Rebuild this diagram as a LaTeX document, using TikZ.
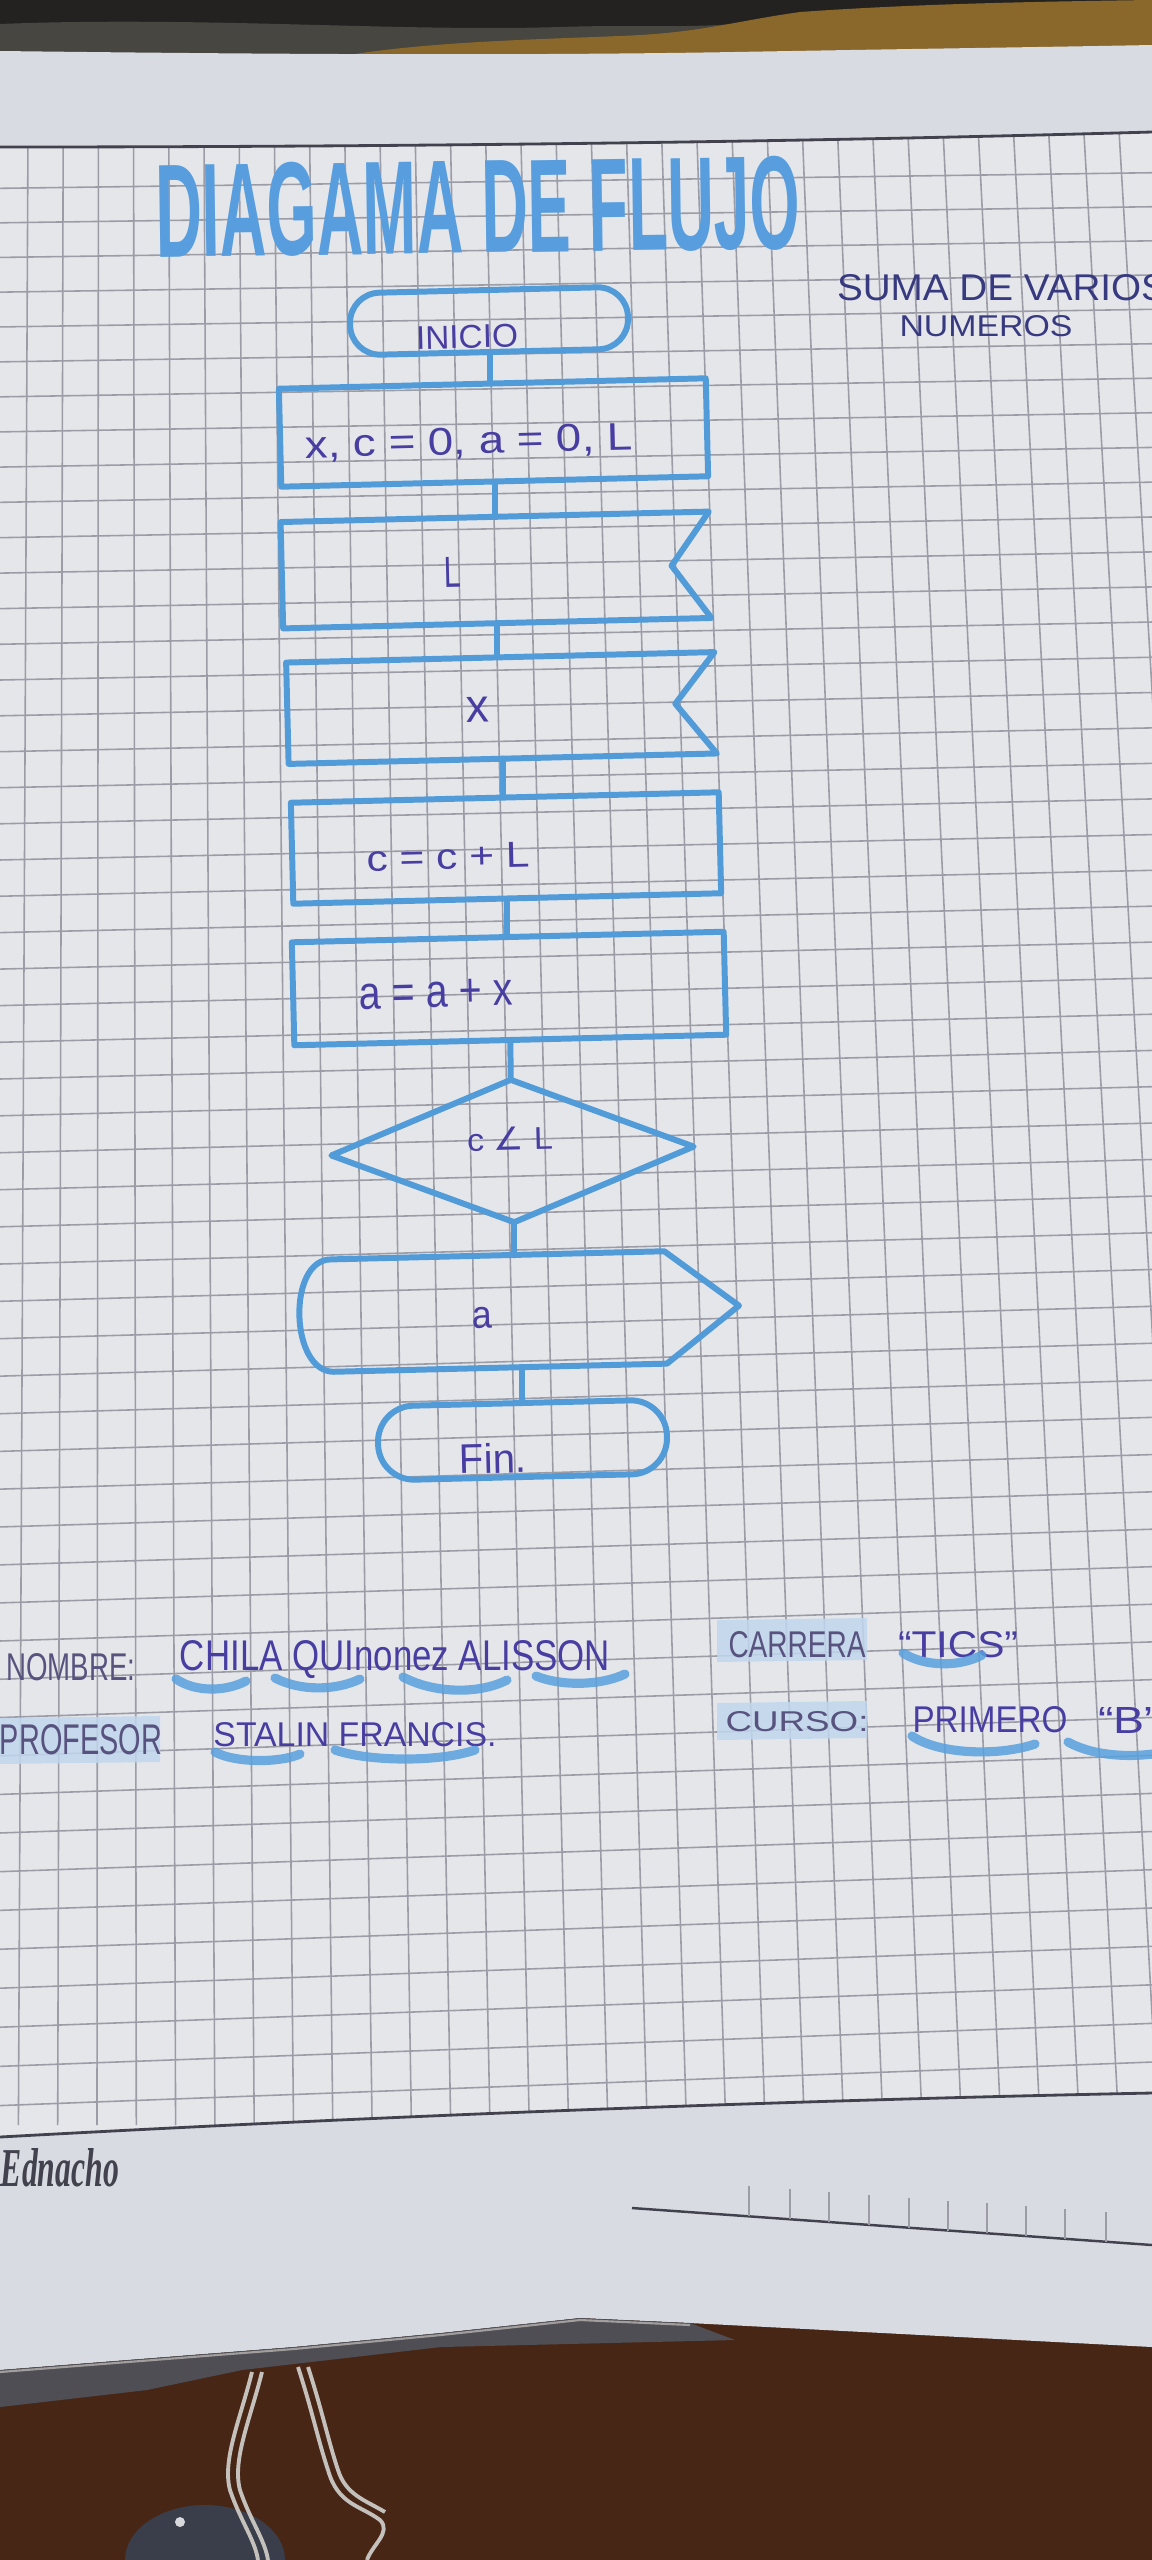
\documentclass[tikz,border=0pt]{standalone}
\usepackage{fontspec}
\setmainfont{Liberation Sans}
\newfontfamily\symfont{DejaVu Sans}
\newfontfamily\sigfont{Liberation Serif}
\usepackage{graphicx}
\usetikzlibrary{calc}

% one unit = one pixel of the sheet
\newlength\pxu
\setlength\pxu{0.01cm}
\newcommand\fitbox[3]{\resizebox{#1\pxu}{#2\pxu}{#3}}

\definecolor{tablec}{RGB}{72,38,22}
\definecolor{darktop}{RGB}{36,34,32}
\definecolor{greytop}{RGB}{72,70,64}
\definecolor{gold}{RGB}{138,104,44}
\definecolor{paperdim}{RGB}{216,219,226}
\definecolor{paper}{RGB}{229,230,234}
\definecolor{gridc}{RGB}{156,156,166}
\definecolor{rulec}{RGB}{66,66,78}
\definecolor{marker}{RGB}{80,155,216}
\definecolor{titleblue}{RGB}{88,158,222}
\definecolor{pen}{RGB}{72,62,162}
\definecolor{pengrey}{RGB}{88,82,126}
\definecolor{notec}{RGB}{56,58,128}
\definecolor{hilite}{RGB}{192,214,237}
\definecolor{swooshc}{RGB}{88,160,222}
\definecolor{bandc}{RGB}{78,78,84}
\definecolor{lacec}{RGB}{196,192,188}
\definecolor{blobc}{RGB}{58,62,74}

\begin{document}
\begin{tikzpicture}[x=0.01cm, y=-0.01cm,
  gridline/.style={draw=gridc, line width=0.45pt},
  rule/.style={draw=rulec, line width=0.8pt},
  shape line/.style={draw=marker, line width=1.7pt, line join=round, line cap=round},
  boxref/.style={rectangle, inner sep=0pt, rotate=1.4},
  flowbox/.style={boxref, shape line},
  terminal/.style={boxref, shape line, rounded corners=#1},
  pentext/.style={text=pen, inner sep=0pt, rotate=1.4},
  labeltext/.style={text=pengrey, inner sep=0pt},
  nametext/.style={text=pen, inner sep=0pt},
  notetext/.style={text=notec, inner sep=0pt},
  swoosh/.style={draw=swooshc, line width=2.6pt, line cap=round, opacity=0.85},
]
\useasboundingbox (0,0) rectangle (1152,2560);

% ---------- table and background ----------
\fill[tablec] (0,0) rectangle (1152,2560);
\fill[darktop] (0,0) rectangle (1152,80);
\fill[greytop] (0,24) .. controls (200,16) and (400,32) .. (560,27)
  .. controls (650,24) and (700,30) .. (770,20) -- (770,70) -- (0,70) -- cycle;
\fill[gold] (330,70) -- (330,58) .. controls (420,42) and (520,40) .. (620,36)
  .. controls (700,33) and (730,22) .. (800,12)
  .. controls (900,5) and (1000,2) .. (1152,0) -- (1152,70) -- cycle;

% ---------- sheet ----------
\fill[paperdim] (0,51) .. controls (250,54) and (500,56) .. (735,52)
  .. controls (900,49) and (1050,47) .. (1152,45)
  -- (1152,2347) -- (690,2323) -- (580,2318) -- (441,2333) -- (294,2347)
  -- (0,2370) -- cycle;

% squared area
\begin{scope}
  \clip (0,147) .. controls (400,147) and (800,142) .. (1152,132)
    -- (1152,2093) .. controls (800,2100) and (400,2115) .. (0,2137) -- cycle;
  \fill[paper] (0,100) rectangle (1152,2200);
  \foreach \k in {0,...,32} {
    \pgfmathsetmacro\xa{28+35.2*\k}
    \pgfmathsetmacro\xb{18.4+39.3*\k}
    \draw[gridline] (\xa,134) -- (\xb,2125);
  }
  \foreach \j in {1,...,53} {
    \pgfmathsetmacro\uu{(\j+0.2)/54}
    \pgfmathsetmacro\ff{\uu+0.0675*\uu*(\uu-1)}
    \pgfmathsetmacro\yl{147+1990*\ff}
    \pgfmathsetmacro\yr{132+1961*\ff}
    \draw[gridline] (0,\yl) -- (1152,\yr);
  }
\end{scope}
\draw[rule] (0,147) .. controls (400,147) and (800,142) .. (1152,132);
\draw[rule] (0,2137) .. controls (400,2115) and (800,2100) .. (1152,2093);

% edge of the next sheet showing below
\draw[rule, line width=0.7pt] (632,2208) -- (1152,2245);
\foreach \x in {749,790,829,869,909,948,987,1026,1065,1106} {
  \pgfmathsetmacro\yb{2208+(\x-632)/520*37}
  \draw[gridline] (\x,\yb) -- (\x,\yb-30);
}

% plastic edge of the sheet protector
\fill[bandc] (0,2370) -- (294,2347) -- (441,2333) -- (580,2318) -- (690,2323)
  -- (735,2340) -- (441,2347) -- (242,2370) -- (147,2390) -- (0,2407) -- cycle;
\draw[lacec!70!bandc, line width=0.6pt] (0,2372) -- (294,2349) -- (441,2335)
  -- (580,2320) -- (690,2325);

% laces and the grey object on the table
\fill[blobc] (205,2560) ellipse [x radius=80, y radius=55];
\fill[white!80!blobc] (180,2522) circle [radius=5];
\draw[lacec, line width=1.1pt] (252,2372) .. controls (240,2420) and (222,2460)
  .. (230,2490) .. controls (240,2520) and (255,2540) .. (258,2560);
\draw[lacec, line width=1.1pt] (262,2372) .. controls (250,2420) and (232,2460)
  .. (240,2490) .. controls (250,2520) and (265,2540) .. (268,2560);
\draw[lacec, line width=1.1pt] (298,2367) .. controls (312,2410) and (318,2440)
  .. (328,2470) .. controls (338,2505) and (360,2505) .. (380,2520)
  .. controls (392,2532) and (372,2545) .. (367,2560);
\draw[lacec, line width=1.1pt] (308,2367) .. controls (322,2410) and (328,2440)
  .. (338,2470) .. controls (346,2495) and (365,2500) .. (385,2512);

% ---------- heading and note ----------
\node[text=titleblue, inner sep=0pt, rotate=0.8] (title) at (478,207)
  {\fitbox{645}{93}{\bfseries DIAGAMA DE FLUJO}};
\node[notetext] (note1) at (1002,288) {\fitbox{330}{26}{SUMA DE VARIOS}};
\node[notetext] (note2) at (986,326) {\fitbox{173}{21}{NUMEROS}};

% ---------- flowchart ----------
\node[terminal=30\pxu, minimum width=278\pxu, minimum height=62\pxu] (start) at (489,321) {};
\node[pentext] (startText) at ($(start)+(-22,16)$) {\fitbox{102}{23}{INICIO}};

\node[flowbox, minimum width=427\pxu, minimum height=98\pxu] (init) at (493.5,432.5) {};
\node[pentext] (initText) at ($(init)+(-24.5,10.5)$) {\fitbox{328}{27}{x, c = 0, a = 0, L}};

\node[boxref, minimum width=427\pxu, minimum height=105\pxu] (inL) at (496,570) {};
\draw[shape line] (inL.north west) -- (inL.north east) -- ($(inL.east)!0.09!(inL.west)$)
  -- (inL.south east) -- (inL.south west) -- cycle;
\node[pentext] (inLText) at ($(inL)+(-43,2)$) {\fitbox{17}{30}{L}};

\node[boxref, minimum width=427\pxu, minimum height=100\pxu] (inX) at (501.5,708) {};
\draw[shape line] (inX.north west) -- (inX.north east) -- ($(inX.east)!0.094!(inX.west)$)
  -- (inX.south east) -- (inX.south west) -- cycle;
\node[pentext] (inXText) at ($(inX)+(-23.5,2)$) {\fitbox{23}{25}{x}};

\node[flowbox, minimum width=428\pxu, minimum height=101\pxu] (sumC) at (506,848) {};
\node[pentext] (sumCText) at ($(sumC)+(-58,9)$) {\fitbox{163}{25}{c = c + L}};

\node[flowbox, minimum width=432\pxu, minimum height=103\pxu] (sumA) at (509,988.5) {};
\node[pentext] (sumAText) at ($(sumA)+(-73,5.5)$) {\fitbox{153}{27}{a = a + x}};

\node[boxref, minimum width=361\pxu, minimum height=141\pxu] (cond) at (512.5,1151) {};
\draw[shape line] (cond.north) -- (cond.east) -- (cond.south) -- (cond.west) -- cycle;
\node[pentext] (condText) at ($(cond)+(-2.5,-12)$) {\fitbox{86}{23}{c {\symfont ∠} L}};

\node[boxref, minimum width=332\pxu, minimum height=111\pxu] (show) at (499,1311.5) {};
\draw[shape line] (show.north west) -- (show.north east)
  -- ($(show.east)!-0.22!(show.west)$) -- (show.south east) -- (show.south west)
  to[out=180, in=180, looseness=1] (show.north west) -- cycle;
\node[pentext] (showText) at ($(show)+(-17,6.5)$) {\fitbox{20}{21}{a}};

\node[terminal=36\pxu, minimum width=289\pxu, minimum height=74\pxu] (stop) at (522.5,1440) {};
\node[pentext] (stopText) at ($(stop)+(-29.5,18)$) {\fitbox{67}{30}{Fin.}};

% connectors: short vertical strokes between the shapes
\draw[shape line] (start.south) -- (start.south |- init.north);
\draw[shape line] (init.south) -- (init.south |- inL.north);
\draw[shape line] (inL.south) -- (inL.south |- inX.north);
\draw[shape line] (inX.south) -- (inX.south |- sumC.north);
\draw[shape line] (sumC.south) -- (sumC.south |- sumA.north);
\draw[shape line] (sumA.south) -- (cond.north);
\draw[shape line] (cond.south) -- (cond.south |- show.north);
\draw[shape line] (stop.north |- show.south) -- (stop.north);

% ---------- student data ----------
\fill[hilite, opacity=0.85] (717,1620) -- (867,1618) -- (867,1660) -- (717,1662) -- cycle;
\fill[hilite, opacity=0.85] (717,1703) -- (867,1701) -- (867,1738) -- (717,1740) -- cycle;
\fill[hilite, opacity=0.85] (0,1718) -- (160,1716) -- (160,1762) -- (0,1764) -- cycle;

\node[labeltext] (nameLabel) at (71,1667) {\fitbox{129}{27}{NOMBRE:}};
\node[nametext] (nameValue) at (395,1660) {\fitbox{430}{30}{CHILA QUInonez ALISSON}};
\node[labeltext] (careerLabel) at (797,1645) {\fitbox{137}{26}{CARRERA}};
\node[nametext] (careerValue) at (958,1645) {\fitbox{120}{26}{“TICS”}};
\node[labeltext] (teacherLabel) at (81,1740) {\fitbox{162}{30}{PROFESOR}};
\node[nametext] (teacherValue) at (355,1735) {\fitbox{283}{24}{STALIN FRANCIS.}};
\node[labeltext] (courseLabel) at (797,1722) {\fitbox{143}{20}{CURSO:}};
\node[nametext] (courseValue) at (990,1720) {\fitbox{155}{26}{PRIMERO}};
\node[nametext] (groupValue) at (1129,1720) {\fitbox{62}{26}{“B”}};

\draw[swoosh] (176,1679) .. controls (195,1692) and (225,1692) .. (246,1681);
\draw[swoosh] (275,1678) .. controls (300,1691) and (335,1691) .. (360,1679);
\draw[swoosh] (403,1677) .. controls (435,1694) and (480,1694) .. (507,1680);
\draw[swoosh] (536,1676) .. controls (560,1686) and (600,1686) .. (625,1674);
\draw[swoosh] (903,1653) .. controls (925,1667) and (960,1667) .. (982,1655);
\draw[swoosh] (215,1752) .. controls (235,1763) and (280,1763) .. (300,1754);
\draw[swoosh] (335,1750) .. controls (370,1762) and (440,1762) .. (475,1750);
\draw[swoosh] (912,1736) .. controls (940,1755) and (1000,1756) .. (1035,1744);
\draw[swoosh] (1068,1742) .. controls (1095,1757) and (1135,1758) .. (1165,1752);

% signature printed on the sheet
\node[text=rulec, inner sep=0pt] (signature) at (60,2168)
  {\fitbox{118}{38}{\sigfont\itshape\bfseries Ednacho}};
\end{tikzpicture}
\end{document}
